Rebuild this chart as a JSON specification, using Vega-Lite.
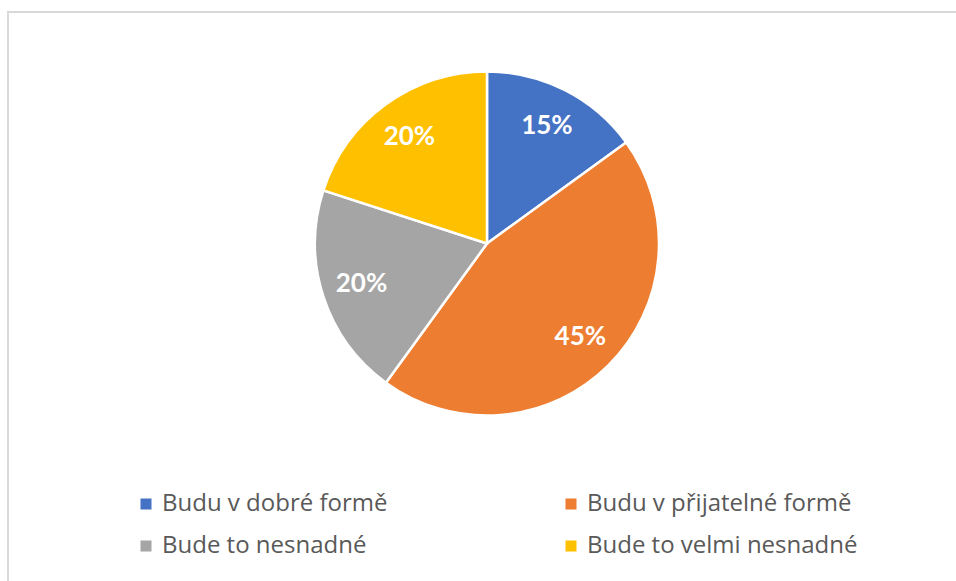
{
  "$schema": "https://vega.github.io/schema/vega-lite/v6.json",
  "width": 948,
  "height": 569,
  "autosize": {"type": "none"},
  "padding": {"left": 8, "top": 12, "right": 0, "bottom": 0},
  "background": "white",
  "view": {"stroke": "#d9d9d9", "strokeWidth": 2, "strokeDash": [948, 1517, 569]},
  "data": {
    "values": [
      {"kategorie": "Budu v dobré formě", "podil": 0.15, "poradi": 1},
      {"kategorie": "Budu v přijatelné formě", "podil": 0.45, "poradi": 2},
      {"kategorie": "Bude to nesnadné", "podil": 0.20, "poradi": 3},
      {"kategorie": "Bude to velmi nesnadné", "podil": 0.20, "poradi": 4}
    ]
  },
  "encoding": {
    "theta": {"field": "podil", "type": "quantitative", "stack": true},
    "order": {"field": "poradi", "type": "quantitative"}
  },
  "layer": [
    {
      "mark": {"type": "arc", "outerRadius": 172, "stroke": "white", "strokeWidth": 2.5, "xOffset": 5, "yOffset": -53},
      "encoding": {
        "color": {
          "field": "kategorie",
          "type": "nominal",
          "scale": {
            "domain": ["Budu v dobré formě", "Budu v přijatelné formě", "Bude to nesnadné", "Bude to velmi nesnadné"],
            "range": ["#4472C4", "#ED7D31", "#A5A5A5", "#FFC000"]
          },
          "legend": {
            "title": null,
            "orient": "none",
            "direction": "horizontal",
            "legendX": 126,
            "legendY": 480,
            "columns": 2,
            "symbolType": "square",
            "symbolSize": 121,
            "symbolStrokeWidth": 0,
            "labelFont": "Open Sans",
            "labelFontSize": 24,
            "labelColor": "#595959",
            "labelOffset": 4,
            "labelLimit": 0,
            "columnPadding": 171,
            "rowPadding": 18,
            "padding": 0
          }
        }
      }
    },
    {
      "mark": {"type": "text", "radius": 132, "font": "Lato", "fontWeight": "bold", "fontSize": 26, "xOffset": 5, "yOffset": -53},
      "encoding": {
        "text": {"field": "podil", "type": "quantitative", "format": ".0%"},
        "color": {"value": "white"}
      }
    }
  ]
}
